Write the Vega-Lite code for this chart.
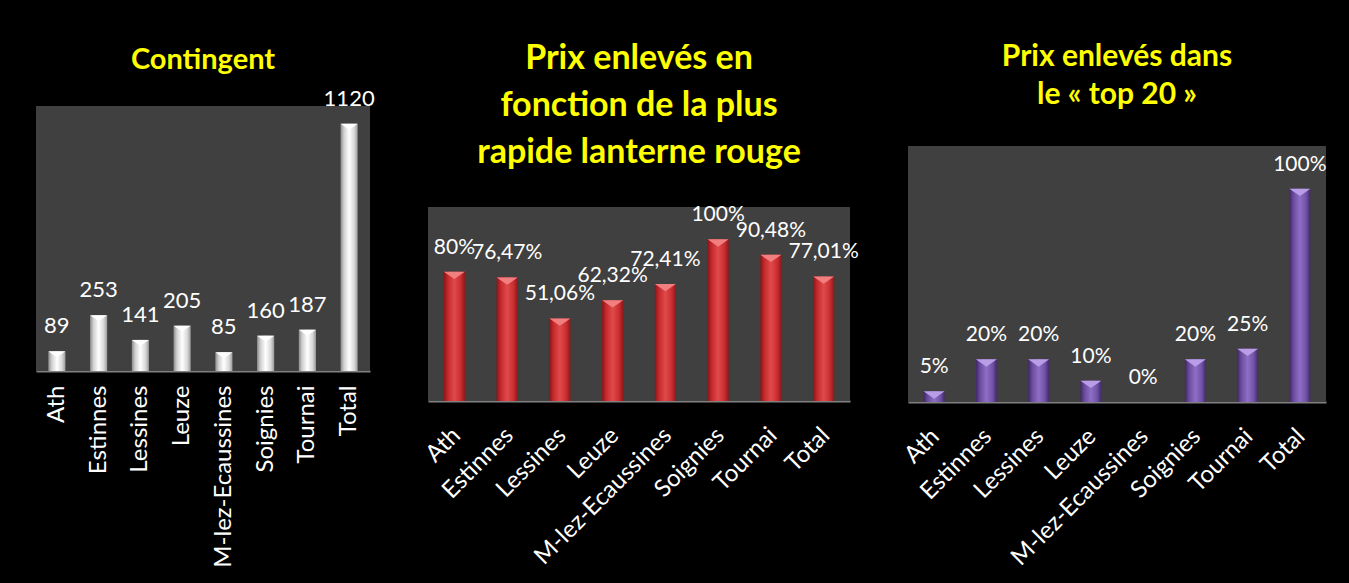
{
  "$schema": "https://vega.github.io/schema/vega-lite/v6.json",
  "background": "#000000",
  "padding": {"left": 36, "top": 42, "right": 40, "bottom": 30},
  "spacing": 58,
  "bounds": "flush",
  "config": {
    "locale": {"number": {"decimal": ",", "thousands": " ", "grouping": [3], "currency": ["", " €"]}},
    "view": {"fill": null, "stroke": null},
    "font": "Lato",
    "axis": {"domainColor": "#808080", "domainWidth": 2, "ticks": false, "grid": false, "labelColor": "#ffffff", "labelFont": "Lato", "labelFontSize": 24, "labelLimit": 400, "labelOverlap": false},
    "title": {"color": "#ffff00", "font": "Lato", "fontWeight": "bold", "anchor": "middle"}
  },
  "data": {"values": [
    {"ville": "Ath", "contingent": 89, "lanterne": 0.80, "top20": 0.05},
    {"ville": "Estinnes", "contingent": 253, "lanterne": 0.7647, "top20": 0.20},
    {"ville": "Lessines", "contingent": 141, "lanterne": 0.5106, "top20": 0.20},
    {"ville": "Leuze", "contingent": 205, "lanterne": 0.6232, "top20": 0.10},
    {"ville": "M-lez-Ecaussines", "contingent": 85, "lanterne": 0.7241, "top20": 0.0},
    {"ville": "Soignies", "contingent": 160, "lanterne": 1.0, "top20": 0.20},
    {"ville": "Tournai", "contingent": 187, "lanterne": 0.9048, "top20": 0.25},
    {"ville": "Total", "contingent": 1120, "lanterne": 0.7701, "top20": 1.0}
  ]},
  "hconcat": [
    {
      "width": 334, "height": 265,
      "title": {"text": "Contingent", "fontSize": 29, "offset": 13},
      "layer": [
        {"data": {"values": [{"bas": 0, "haut": 1200}]},
         "mark": {"type": "rect", "color": "#404040"},
         "encoding": {"y": {"field": "bas", "type": "quantitative", "scale": {"domain": [0, 1200], "nice": false}, "axis": null}, "y2": {"field": "haut"}}},
        {"encoding": {
          "x": {"field": "ville", "type": "nominal", "sort": null, "scale": {"paddingInner": 0.59, "paddingOuter": 0.295},
                "axis": {"title": null, "labelAngle": -90, "labelAlign": "right", "labelBaseline": "middle", "labelPadding": 14}},
          "y": {"field": "contingent", "type": "quantitative", "scale": {"domain": [0, 1200], "nice": false}, "axis": null}
         },
         "layer": [
          {"mark": {"type": "bar", "color": {"gradient": "linear", "x1": 0, "x2": 1, "y1": 0, "y2": 0,
            "stops": [{"offset": 0, "color": "#8c8c8c"}, {"offset": 0.2, "color": "#d0d0d0"}, {"offset": 0.5, "color": "#ffffff"}, {"offset": 0.8, "color": "#d8d8d8"}, {"offset": 1, "color": "#9a9a9a"}]}}},
          {"transform": [{"filter": "datum.contingent > 0"}],
           "mark": {"type": "point", "shape": "M-1,-0.35L1,-0.35L0,0.35Z", "size": 289, "filled": true, "opacity": 1, "color": "#ffffff", "yOffset": 3}},
          {"mark": {"type": "text", "color": "#ffffff", "fontSize": 22, "baseline": "alphabetic", "dy": -18},
           "encoding": {"text": {"field": "contingent", "type": "quantitative", "format": "d"}}}
         ]}
      ]
    },
    {
      "width": 422, "height": 295,
      "title": {"text": ["Prix enlevés en", "fonction de la plus", "rapide lanterne rouge"], "fontSize": 34, "lineHeight": 47, "offset": -64},
      "layer": [
        {"data": {"values": [{"bas": 0, "haut": 1.2}]},
         "mark": {"type": "rect", "color": "#404040"},
         "encoding": {"y": {"field": "bas", "type": "quantitative", "scale": {"domain": [0, 1.8247], "nice": false}, "axis": null}, "y2": {"field": "haut"}}},
        {"encoding": {
          "x": {"field": "ville", "type": "nominal", "sort": null, "scale": {"paddingInner": 0.6, "paddingOuter": 0.3},
                "axis": {"title": null, "labelAngle": -45, "labelAlign": "right", "labelBaseline": "top", "labelPadding": 22, "labelOffset": -6}},
          "y": {"field": "lanterne", "type": "quantitative", "scale": {"domain": [0, 1.8247], "nice": false}, "axis": null}
         },
         "layer": [
          {"mark": {"type": "bar", "color": {"gradient": "linear", "x1": 0, "x2": 1, "y1": 0, "y2": 0,
            "stops": [{"offset": 0, "color": "#8a1416"}, {"offset": 0.2, "color": "#c52a2d"}, {"offset": 0.5, "color": "#e04a4b"}, {"offset": 0.8, "color": "#c92e30"}, {"offset": 1, "color": "#901719"}]}}},
          {"transform": [{"filter": "datum.lanterne > 0"}],
           "mark": {"type": "point", "shape": "M-1,-0.35L1,-0.35L0,0.35Z", "size": 441, "filled": true, "opacity": 1, "color": "#f27f80", "yOffset": 3.7}},
          {"mark": {"type": "text", "color": "#ffffff", "fontSize": 21, "baseline": "alphabetic", "dy": -18},
           "encoding": {"text": {"field": "lanterne", "type": "quantitative", "format": ".2~%"}}}
         ]}
      ]
    },
    {
      "width": 418, "height": 296,
      "title": {"text": ["Prix enlevés dans", "le « top 20 »"], "fontSize": 30, "lineHeight": 38, "offset": -4},
      "layer": [
        {"data": {"values": [{"bas": 0, "haut": 1.2}]},
         "mark": {"type": "rect", "color": "#404040"},
         "encoding": {"y": {"field": "bas", "type": "quantitative", "scale": {"domain": [0, 1.3875], "nice": false}, "axis": null}, "y2": {"field": "haut"}}},
        {"encoding": {
          "x": {"field": "ville", "type": "nominal", "sort": null, "scale": {"paddingInner": 0.6, "paddingOuter": 0.3},
                "axis": {"title": null, "labelAngle": -45, "labelAlign": "right", "labelBaseline": "top", "labelPadding": 22, "labelOffset": -7}},
          "y": {"field": "top20", "type": "quantitative", "scale": {"domain": [0, 1.3875], "nice": false}, "axis": null}
         },
         "layer": [
          {"mark": {"type": "bar", "color": {"gradient": "linear", "x1": 0, "x2": 1, "y1": 0, "y2": 0,
            "stops": [{"offset": 0, "color": "#3f2766"}, {"offset": 0.2, "color": "#6c4c9e"}, {"offset": 0.5, "color": "#8f6fc6"}, {"offset": 0.8, "color": "#7052a6"}, {"offset": 1, "color": "#42296a"}]}}},
          {"transform": [{"filter": "datum.top20 > 0"}],
           "mark": {"type": "point", "shape": "M-1,-0.35L1,-0.35L0,0.35Z", "size": 441, "filled": true, "opacity": 1, "color": "#b99de6", "yOffset": 3.7}},
          {"mark": {"type": "text", "color": "#ffffff", "fontSize": 21, "baseline": "alphabetic", "dy": -18},
           "encoding": {"text": {"field": "top20", "type": "quantitative", "format": ".2~%"}}}
         ]}
      ]
    }
  ]
}
